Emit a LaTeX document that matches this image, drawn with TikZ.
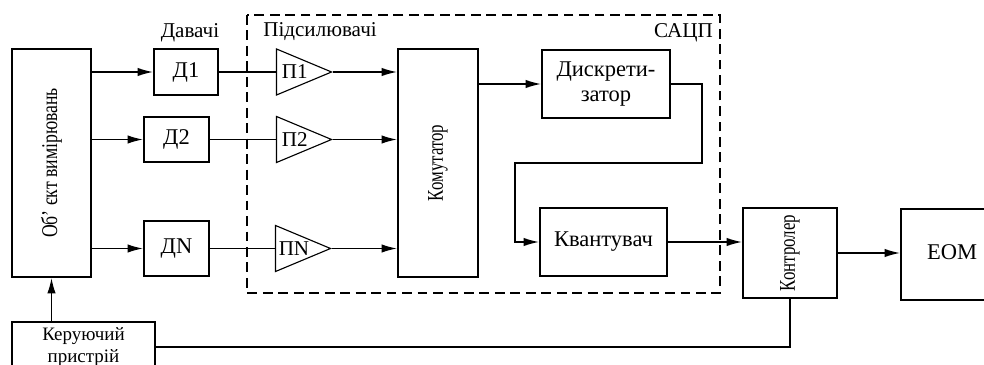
\documentclass[tikz,border=0pt]{standalone}
\usepackage{fontspec}
\setmainfont{Liberation Serif}
\usetikzlibrary{arrows.meta,shapes.geometric}
\tikzset{
  blok/.style={draw, line width=1.3pt, inner sep=2pt, align=center,
    font=\fontsize{16}{18}\selectfont},
  amp/.style={draw, line width=0.8pt, isosceles triangle,
    isosceles triangle stretches, shape border rotate=0,
    minimum height=1.375cm, minimum width=1.15cm, inner sep=0pt},
  amplabel/.style={anchor=west, inner sep=0pt, xshift=4pt,
    font=\fontsize{15}{17}\selectfont},
  vtext/.style={rotate=90, xscale=0.75, font=\fontsize{16}{18}\selectfont},
  line/.style={line width=1.1pt},
  arr/.style={line width=1.1pt, -{Latex[length=11pt,width=6pt]}},
  title/.style={font=\fontsize{15}{17}\selectfont, inner sep=0pt}
}
\begin{document}
\begin{tikzpicture}[x=0.025cm, y=-0.025cm]
\useasboundingbox (0,0) rectangle (984,365);

% dashed frame of the ADC system
\draw[line width=1.2pt, dash pattern=on 7pt off 4pt] (247,15) rectangle (720,293);
\node[title] (tDav) at (190,33) {Давачі};
\node[title, anchor=west] (tPid) at (263,32) {Підсилювачі};
\node[title, anchor=east] (tSacp) at (713,33) {САЦП};

% blocks
\node[blok, minimum width=1.975cm, minimum height=5.7cm] (obj) at (51.5,163) {};
\node[vtext, xscale=1.05] (objtxt) at (obj.center) {Об’ єкт вимірювань};
\node[blok, minimum width=1.6cm, minimum height=1.15cm] (d1) at (186,72) {Д1};
\node[blok, minimum width=1.625cm, minimum height=1.125cm] (d2) at (176.5,139.5) {Д2};
\node[blok, minimum width=1.625cm, minimum height=1.375cm] (dN) at (176.5,248.5) {ДN};
\node[blok, minimum width=3.575cm, minimum height=1.25cm, line width=1.5pt,
  font=\fontsize{13.5}{15.5}\selectfont] (ctrl) at (83.5,347) {Керуючий\\пристрій};

\node[amp, anchor=apex] (p1) at (333,72) {};
\node[amplabel] (lp1) at (p1.lower side) {П1};
\node[amp, anchor=apex] (p2) at (333,139.5) {};
\node[amplabel] (lp2) at (p2.lower side) {П2};
\node[amp, anchor=apex] (pN) at (332,248.5) {};
\node[amplabel, xshift=-1.5pt] (lpN) at (pN.lower side) {ПN};

\node[blok, minimum width=2cm, minimum height=5.7cm] (kom) at (438,163) {};
\node[vtext] (komtxt) at (kom.center) {Комутатор};
\node[blok, minimum width=3.2cm, minimum height=1.7cm] (disk) at (606,84) {Дискрети-\\затор};
\node[blok, minimum width=3.175cm, minimum height=1.7cm] (kvant) at (603.5,242) {Квантувач};
\node[blok, minimum width=2.35cm, minimum height=2.25cm] (kontr) at (790,253) {};
\node[vtext] (kontrtxt) at (kontr.center) {Контролер};
\node[blok, minimum width=2.6cm, minimum height=2.275cm] (eom) at (953,254.5) {};
\node[font=\fontsize{16}{18}\selectfont] (eomtxt) at (952,252) {ЕОМ};

% connections
\draw[arr] (d1.west -| obj.east) -- (d1.west);
\draw[arr] (d2.west -| obj.east) -- (d2.west);
\draw[arr] (dN.west -| obj.east) -- (dN.west);
\draw[line] (d1.east) -- (p1.lower side);
\draw[line] (d2.east) -- (p2.lower side);
\draw[line] (dN.east) -- (pN.lower side);
\draw[arr] (p1.apex) -- (p1.apex -| kom.west);
\draw[arr] (p2.apex) -- (p2.apex -| kom.west);
\draw[arr] (pN.apex) -- (pN.apex -| kom.west);
\draw[arr] (disk.west -| kom.east) -- (disk.west);
\coordinate (b1) at (702,163);
\coordinate (b2) at (515,163);
\draw[arr] (disk.east) -| (b1) -- (b2) |- (kvant.west);
\draw[arr] (kvant.east) -- (kvant.east -| kontr.west);
\draw[arr] (kontr.east) -- (kontr.east -| eom.west);
\draw[line] (kontr.south) |- (ctrl.east);
\draw[arr] (obj.south |- ctrl.north) -- (obj.south);

\end{tikzpicture}
\end{document}
